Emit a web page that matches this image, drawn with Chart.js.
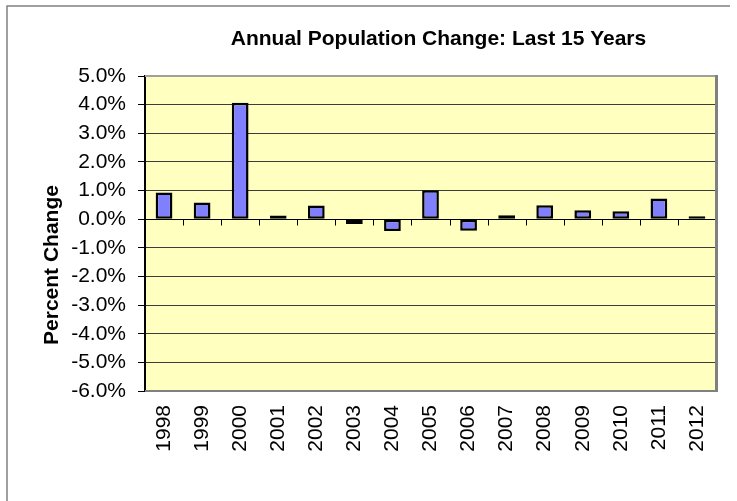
<!DOCTYPE html>
<html lang="en">
<head>
    <meta charset="UTF-8">
    <title>Annual Population Change</title>
    <script src="https://cdn.jsdelivr.net/npm/chart.js"></script>
    <style>
        html, body {
            margin: 0;
            padding: 0;
            background: #fff;
        }
        .chart-container {
            position: relative;
            width: 737px;
            height: 501px;
        }
    </style>
</head>
<body>
    <div class="chart-container">
        <canvas id="popChart"></canvas>
    </div>
    <script>
        const years = ['1998', '1999', '2000', '2001', '2002', '2003', '2004', '2005',
                       '2006', '2007', '2008', '2009', '2010', '2011', '2012'];
        // percent change per year
        const pctChange = [0.93, 0.58, 4.07, 0.13, 0.48, -0.17, -0.41, 1.01,
                           -0.40, 0.14, 0.49, 0.31, 0.28, 0.72, 0.10];
        const yMin = -6;
        const yMax = 5;

        const FONT = '"Liberation Sans", Arial, sans-serif';

        // white page, outer frame and yellow plot area
        const frame = {
            id: 'frame',
            beforeDraw(chart) {
                const { ctx, chartArea: a } = chart;
                ctx.save();
                ctx.fillStyle = '#fff';
                ctx.fillRect(0, 0, chart.width, chart.height);
                ctx.strokeStyle = '#808080';
                ctx.lineWidth = 1.5;
                ctx.beginPath();
                ctx.moveTo(7, chart.height);
                ctx.lineTo(7, 6);
                ctx.lineTo(730, 6);
                ctx.stroke();
                ctx.fillStyle = '#ffffc0';
                ctx.fillRect(a.left, a.top, a.right - a.left, a.bottom - a.top);
                ctx.restore();
            },
            beforeDatasetsDraw(chart) {
                // category axis crossing at 0 with tick marks between years
                const { ctx, chartArea: a, scales: { x, y } } = chart;
                const y0 = Math.round(y.getPixelForValue(0)) + 0.5;
                ctx.save();
                ctx.strokeStyle = '#000';
                ctx.lineWidth = 1;
                ctx.beginPath();
                ctx.moveTo(a.left, y0);
                ctx.lineTo(a.right + 1, y0);
                for (let i = 1; i <= years.length; i++) {
                    const xb = Math.round(x.getPixelForValue(i - 0.5)) + 0.5;
                    ctx.moveTo(xb, y0);
                    ctx.lineTo(xb, y0 + 6);
                }
                ctx.stroke();
                ctx.restore();
            },
            afterDraw(chart) {
                const { ctx, chartArea: a } = chart;
                ctx.save();
                // plot border (top, right, bottom)
                ctx.strokeStyle = '#a0a0a0';
                ctx.lineWidth = 2;
                ctx.beginPath();
                ctx.moveTo(a.left, a.top);
                ctx.lineTo(a.right, a.top);
                ctx.stroke();
                ctx.strokeStyle = '#808080';
                ctx.lineWidth = 3;
                ctx.beginPath();
                ctx.moveTo(a.right + 0.5, a.top - 1);
                ctx.lineTo(a.right + 0.5, a.bottom + 1);
                ctx.stroke();
                ctx.lineWidth = 2;
                ctx.beginPath();
                ctx.moveTo(a.left, a.bottom);
                ctx.lineTo(a.right, a.bottom);
                ctx.stroke();

                // titles
                ctx.fillStyle = '#000';
                ctx.font = 'bold 21px ' + FONT;
                ctx.textAlign = 'center';
                ctx.textBaseline = 'alphabetic';
                ctx.fillText('Annual Population Change: Last 15 Years', 438.5, 45);

                ctx.translate(52, 265);
                ctx.rotate(-Math.PI / 2);
                ctx.textBaseline = 'middle';
                ctx.fillText('Percent Change', 0, 0);
                ctx.restore();
            }
        };

        const ctx = document.getElementById('popChart').getContext('2d');
        const popChart = new Chart(ctx, {
            type: 'bar',
            data: {
                labels: years,
                datasets: [{
                    label: 'Percent Change',
                    data: pctChange,
                    backgroundColor: '#8080ff',
                    borderColor: '#000',
                    borderWidth: 2.5,
                    borderSkipped: false,
                    categoryPercentage: 1,
                    barPercentage: 0.44
                }]
            },
            options: {
                responsive: true,
                maintainAspectRatio: false,
                animation: false,
                layout: {
                    padding: { top: 76, right: 21, bottom: 0, left: 0 }
                },
                scales: {
                    x: {
                        afterFit: (scale) => { scale.height = 110; },
                        grid: { display: false, drawTicks: false },
                        border: { display: false },
                        ticks: {
                            color: '#000',
                            font: { family: FONT, size: 21 },
                            minRotation: 90,
                            maxRotation: 90,
                            padding: 14,
                            autoSkip: false
                        }
                    },
                    y: {
                        min: yMin,
                        max: yMax,
                        afterFit: (scale) => { scale.width = 145; },
                        grid: {
                            color: '#3c3c3c',
                            lineWidth: 1,
                            tickLength: 7,
                            tickColor: '#000'
                        },
                        border: { display: true, color: '#000', width: 2 },
                        ticks: {
                            stepSize: 1,
                            color: '#000',
                            padding: 12,
                            font: { family: FONT, size: 21 },
                            callback: (v) => v.toFixed(1) + '%'
                        }
                    }
                },
                plugins: {
                    legend: { display: false },
                    tooltip: { enabled: false },
                    title: { display: false }
                }
            },
            plugins: [frame]
        });
    </script>
</body>
</html>
